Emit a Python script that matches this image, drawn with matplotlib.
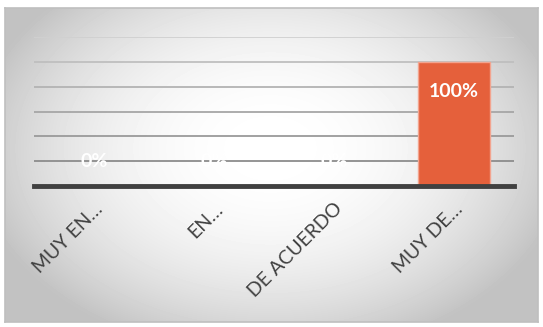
import numpy as np
import matplotlib.pyplot as plt

categories = ['MUY EN…', 'EN…', 'DE ACUERDO', 'MUY DE…']
values = [0, 0, 0, 100]
value_labels = ['0%', '0%', '0%', '100%']
y_ticks = [0, 20, 40, 60, 80, 100, 120]

W, H = 543, 327
fig = plt.figure(figsize=(W / 100, H / 100), dpi=100)

# radial gradient background inside the chart frame
bg = fig.add_axes([5 / W, 1 - 322 / H, 533 / W, 314 / H])
yy, xx = np.mgrid[0:314, 0:533]
r = np.sqrt(((xx - 265) / 300.0) ** 2 + ((yy - 140) / 210.0) ** 2)
shade = np.clip(1.0 - 0.24 * r ** 2.2, 0.76, 1.0)
bg.imshow(shade, cmap='gray', vmin=0, vmax=1, aspect='auto', interpolation='bilinear')
bg.set_xticks([])
bg.set_yticks([])
for s in bg.spines.values():
    s.set_color('#bfbfbf')
    s.set_linewidth(1.2)

ax = fig.add_axes([34 / W, 1 - 186 / H, 480 / W, 149 / H])
ax.patch.set_alpha(0)
x = np.arange(len(categories))
ax.bar(x, values, width=0.6, color='#e5603b', edgecolor='#f3a48f', linewidth=1.0, zorder=3)
ax.set_xlim(-0.5, len(categories) - 0.5)
ax.set_ylim(0, 120)
ax.set_yticks(y_ticks)
ax.yaxis.grid(True, linewidth=1.3)
ax.set_axisbelow(True)
grid_cols = ['#404040', '#8c8c8c', '#9a9a9a', '#a6a6a6', '#b3b3b3', '#bfbfbf', '#d0d0d0']
for gl, c in zip(ax.get_ygridlines(), grid_cols):
    gl.set_color(c)
ax.tick_params(left=False, labelleft=False, bottom=False, length=0)
for s in ['top', 'right', 'left']:
    ax.spines[s].set_visible(False)
ax.spines['bottom'].set_color('#404040')
ax.spines['bottom'].set_linewidth(3.5)
ax.spines['bottom'].set_zorder(4)

ax.set_xticks(x)
ax.set_xticklabels(categories, rotation=45, ha='right', rotation_mode='anchor',
                   fontsize=14, color='#404040', family='Lato')
ax.tick_params(axis='x', pad=10)

for xi, v, lab in zip(x, values, value_labels):
    ypos = v - 24 if v > 0 else 20
    ax.text(xi, ypos, lab, ha='center', va='center', color='white',
            fontsize=14, fontweight='bold', family='Lato', zorder=5)

fig.savefig('out.png', dpi=100)
